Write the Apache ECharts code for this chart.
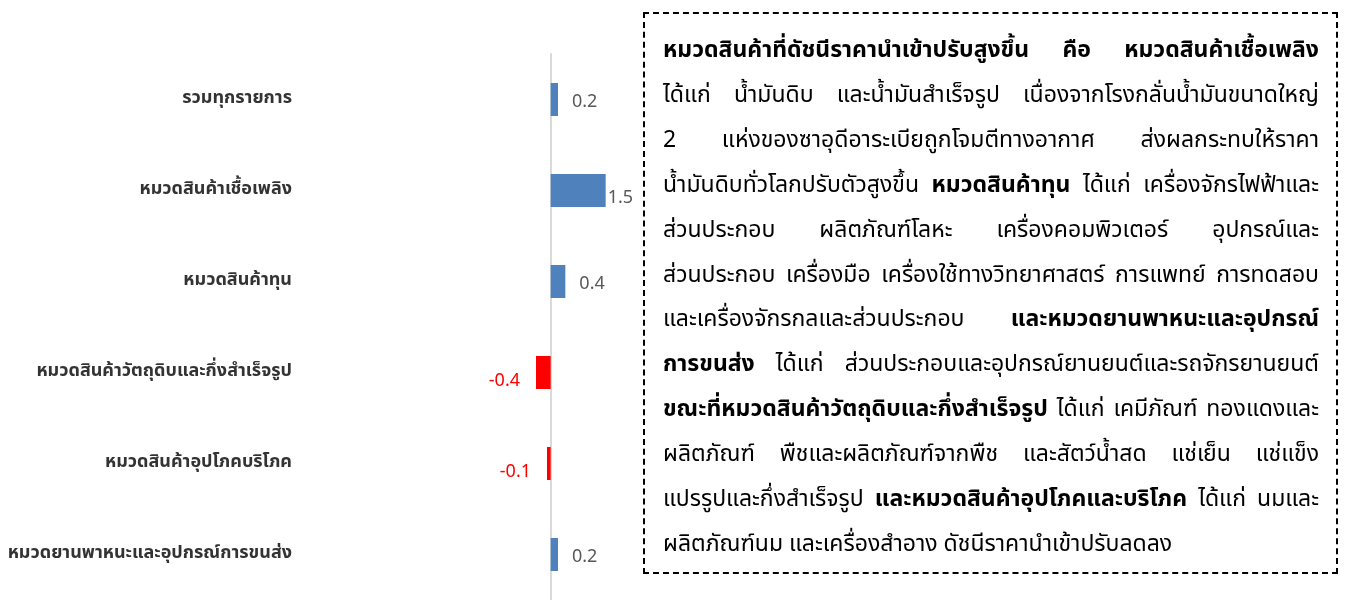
<!DOCTYPE html>
<html>
<head>
<meta charset="utf-8">
<script src="https://cdn.jsdelivr.net/npm/echarts@6/dist/echarts.min.js"></script>
<style>
  html, body { margin: 0; padding: 0; background: #fff; }
  #wrap { position: relative; width: 1348px; height: 600px; overflow: hidden; }
  #chart { position: absolute; left: 0; top: 0; width: 1348px; height: 600px; }
  #note {
    position: absolute; left: 643px; top: 12px; width: 695px; height: 562px;
    border: 2px dashed #000; box-sizing: border-box;
    padding: 14px 17px 0 18px;
    font-family: "Noto Sans Thai", "Noto Sans", "DejaVu Sans", sans-serif;
    font-size: 23px; color: #000; line-height: 44.9px;
  }
  #note .ln { display: block; text-align: justify; text-align-last: justify; white-space: nowrap; }
  #note .ln.last { text-align-last: left; }
  #note b { font-weight: 700; }
</style>
</head>
<body>
<div id="wrap">
  <div id="chart"></div>
  <div id="note">
    <span class="ln"><b>หมวดสินค้าที่ดัชนีราคานำเข้าปรับสูงขึ้น คือ หมวดสินค้าเชื้อเพลิง</b></span>
    <span class="ln">ได้แก่ น้ำมันดิบ และน้ำมันสำเร็จรูป เนื่องจากโรงกลั่นน้ำมันขนาดใหญ่</span>
    <span class="ln">2 แห่งของซาอุดีอาระเบียถูกโจมตีทางอากาศ ส่งผลกระทบให้ราคา</span>
    <span class="ln">น้ำมันดิบทั่วโลกปรับตัวสูงขึ้น <b>หมวดสินค้าทุน</b> ได้แก่ เครื่องจักรไฟฟ้าและ</span>
    <span class="ln">ส่วนประกอบ ผลิตภัณฑ์โลหะ เครื่องคอมพิวเตอร์ อุปกรณ์และ</span>
    <span class="ln">ส่วนประกอบ เครื่องมือ เครื่องใช้ทางวิทยาศาสตร์ การแพทย์ การทดสอบ</span>
    <span class="ln">และเครื่องจักรกลและส่วนประกอบ <b>และหมวดยานพาหนะและอุปกรณ์</b></span>
    <span class="ln"><b>การขนส่ง</b> ได้แก่ ส่วนประกอบและอุปกรณ์ยานยนต์และรถจักรยานยนต์</span>
    <span class="ln"><b>ขณะที่หมวดสินค้าวัตถุดิบและกึ่งสำเร็จรูป</b> ได้แก่ เคมีภัณฑ์ ทองแดงและ</span>
    <span class="ln">ผลิตภัณฑ์ พืชและผลิตภัณฑ์จากพืช และสัตว์น้ำสด แช่เย็น แช่แข็ง</span>
    <span class="ln">แปรรูปและกึ่งสำเร็จรูป <b>และหมวดสินค้าอุปโภคและบริโภค</b> ได้แก่ นมและ</span>
    <span class="ln last">ผลิตภัณฑ์นม และเครื่องสำอาง ดัชนีราคานำเข้าปรับลดลง</span>
  </div>
</div>
<script>
const categories = [
  'รวมทุกรายการ',
  'หมวดสินค้าเชื้อเพลิง',
  'หมวดสินค้าทุน',
  'หมวดสินค้าวัตถุดิบและกึ่งสำเร็จรูป',
  'หมวดสินค้าอุปโภคบริโภค',
  'หมวดยานพาหนะและอุปกรณ์การขนส่ง'
];
const values = [0.2, 1.5, 0.4, -0.4, -0.1, 0.2];

const BLUE = '#4f81bd', RED = '#ff0000';
const maxVal = Math.max(...values);

const seriesData = values.map(v => {
  const neg = v < 0;
  const item = {
    value: v,
    itemStyle: { color: neg ? RED : BLUE },
    label: {
      position: neg ? 'left' : 'right',
      distance: neg ? 16 : 14,
      color: neg ? RED : '#595959',
      offset: [0, 2]
    }
  };
  if (v === maxVal) { item.label.distance = 2; item.label.offset = [0, 7]; }
  if (neg) item.label.offset = [0, 8];
  return item;
});

const chart = echarts.init(document.getElementById('chart'));
chart.setOption({
  animation: false,
  backgroundColor: '#fff',
  grid: { left: 514, width: 110, top: 54, height: 550, containLabel: false },
  xAxis: {
    type: 'value', min: -1, max: 2,
    axisLine: { show: false }, axisTick: { show: false },
    axisLabel: { show: false }, splitLine: { show: false }
  },
  yAxis: {
    type: 'category', data: categories, inverse: true,
    axisLine: { show: true, onZero: true, lineStyle: { color: '#d9d9d9', width: 2 } },
    axisTick: { show: false },
    axisLabel: {
      margin: 222, color: '#333333', fontWeight: 'bold', fontSize: 18,
      padding: [5, 0, 0, 0],
      fontFamily: '"Noto Sans Thai", "Noto Sans", "DejaVu Sans", sans-serif'
    }
  },
  series: [{
    type: 'bar', data: seriesData, barWidth: 33,
    label: {
      show: true, fontSize: 18,
      fontFamily: '"Noto Sans", "DejaVu Sans", sans-serif',
      formatter: p => p.value.toFixed(1)
    }
  }]
});
</script>
</body>
</html>
